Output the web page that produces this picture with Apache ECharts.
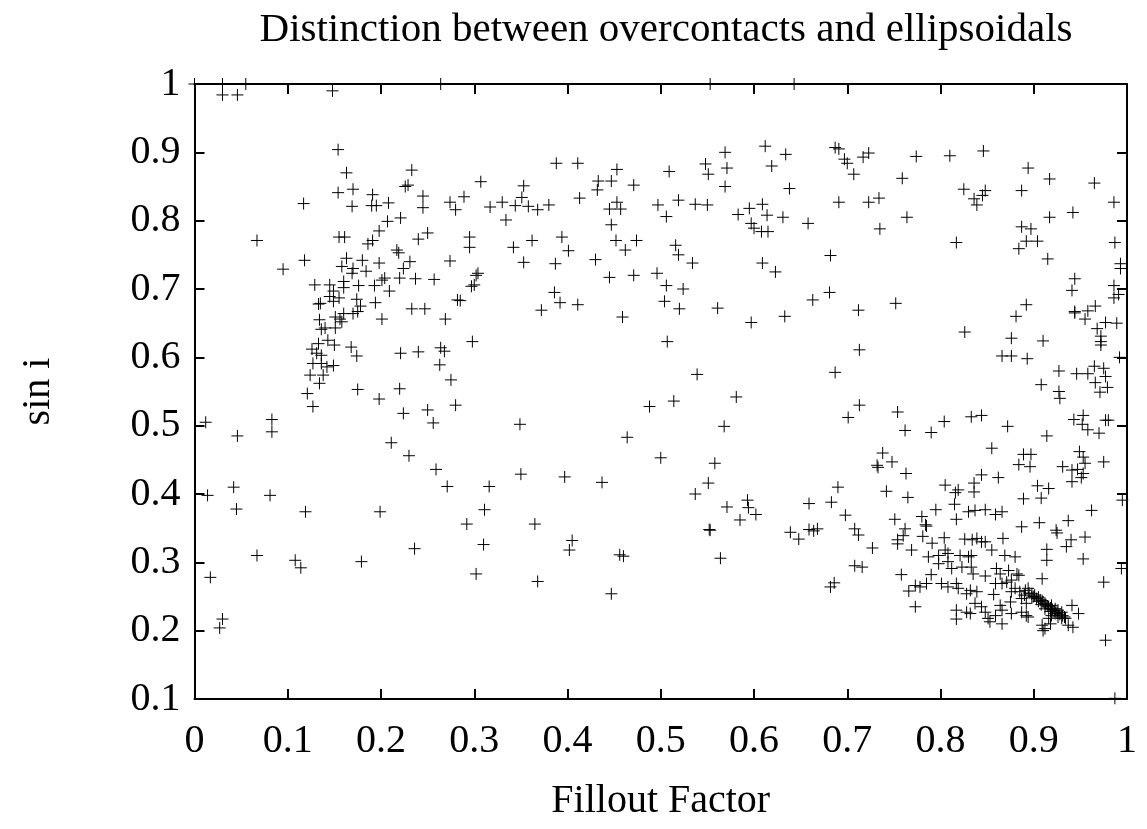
<!DOCTYPE html>
<html>
<head>
<meta charset="utf-8">
<script src="https://cdn.jsdelivr.net/npm/echarts@6/dist/echarts.min.js"></script>
<style>html,body{margin:0;padding:0;background:#fff}#c{width:1147px;height:829px}</style>
</head>
<body>
<div id="c"></div>
<script>
// [fillout factor, sin i] pairs, grouped by region of the plot
const upperLeft = [
[0.000,1.000],[0.030,1.000],[0.055,1.000],[0.030,0.984],[0.046,0.984],[0.148,0.990],[0.154,0.904],[0.163,0.870],
[0.233,0.874],[0.229,0.852],[0.226,0.850],[0.154,0.841],[0.170,0.846],[0.191,0.838],[0.245,0.836],[0.117,0.825],
[0.169,0.821],[0.190,0.822],[0.195,0.822],[0.208,0.826],[0.245,0.819],[0.221,0.804],[0.207,0.799],[0.198,0.785],
[0.250,0.782],[0.067,0.771],[0.155,0.776],[0.161,0.776],[0.240,0.773],[0.191,0.771],[0.186,0.766],[0.217,0.757],
[0.219,0.753],[0.231,0.740],[0.163,0.745],[0.158,0.733],[0.170,0.730],[0.180,0.742],[0.198,0.738],[0.169,0.723],
[0.184,0.726],[0.118,0.742],[0.095,0.729],[0.224,0.730],[0.204,0.716],[0.201,0.713],[0.220,0.716],[0.237,0.715],
[0.129,0.706],[0.145,0.706],[0.160,0.711],[0.160,0.702],[0.176,0.705],[0.193,0.705],[0.209,0.697],[0.149,0.697],
[0.145,0.689],[0.155,0.687],[0.135,0.679],[0.133,0.678],[0.149,0.682],[0.174,0.685],[0.178,0.675],[0.194,0.680],
[0.233,0.671],[0.247,0.671]
];
const upperMidLeft = [
[0.264,1.000],[0.388,0.884],[0.411,0.884],[0.453,0.875],[0.307,0.857],[0.353,0.851],[0.433,0.858],[0.447,0.858],
[0.432,0.845],[0.471,0.852],[0.289,0.835],[0.274,0.827],[0.280,0.816],[0.351,0.834],[0.330,0.827],[0.317,0.820],
[0.344,0.822],[0.358,0.821],[0.368,0.816],[0.380,0.823],[0.413,0.833],[0.453,0.827],[0.445,0.817],[0.457,0.817],
[0.497,0.823],[0.334,0.801],[0.447,0.794],[0.295,0.776],[0.295,0.761],[0.342,0.761],[0.362,0.771],[0.394,0.776],
[0.401,0.756],[0.452,0.771],[0.474,0.771],[0.462,0.757],[0.274,0.741],[0.353,0.739],[0.387,0.737],[0.430,0.743],
[0.257,0.714],[0.304,0.723],[0.302,0.720],[0.300,0.706],[0.297,0.704],[0.445,0.717],[0.471,0.720],[0.496,0.723],
[0.386,0.695],[0.282,0.684],[0.285,0.683],[0.392,0.680],[0.411,0.677],[0.372,0.669]
];
const upperMidRight = [
[0.553,1.000],[0.643,1.000],[0.569,0.900],[0.612,0.909],[0.634,0.897],[0.687,0.907],[0.691,0.905],[0.697,0.890],
[0.700,0.884],[0.717,0.893],[0.723,0.899],[0.707,0.868],[0.509,0.872],[0.548,0.883],[0.551,0.868],[0.571,0.877],
[0.619,0.880],[0.569,0.850],[0.638,0.847],[0.519,0.830],[0.537,0.824],[0.550,0.823],[0.506,0.806],[0.583,0.809],
[0.595,0.818],[0.609,0.824],[0.614,0.808],[0.631,0.805],[0.597,0.796],[0.600,0.789],[0.608,0.784],[0.615,0.784],
[0.658,0.796],[0.691,0.827],[0.723,0.827],[0.734,0.833],[0.735,0.788],[0.516,0.764],[0.519,0.750],[0.534,0.738],
[0.609,0.738],[0.623,0.725],[0.682,0.749],[0.506,0.705],[0.524,0.700],[0.504,0.682],[0.520,0.671],[0.561,0.672],
[0.663,0.684],[0.681,0.695],[0.712,0.669],[0.752,0.679]
];
const upperRight = [
[0.774,0.894],[0.810,0.895],[0.846,0.902],[0.759,0.862],[0.894,0.877],[0.917,0.861],[0.965,0.855],[0.825,0.846],
[0.848,0.844],[0.845,0.837],[0.836,0.832],[0.839,0.823],[0.887,0.844],[0.986,0.827],[0.764,0.805],[0.942,0.812],
[0.917,0.805],[0.887,0.791],[0.897,0.788],[0.817,0.768],[0.892,0.770],[0.904,0.770],[0.884,0.759],[0.987,0.768],
[0.915,0.744],[0.993,0.737],[0.993,0.730],[0.944,0.715],[0.941,0.698],[0.986,0.705],[0.991,0.692],[0.986,0.687],
[0.892,0.677],[0.944,0.667],[0.958,0.668],[0.966,0.675]
];
const middleLeft = [
[0.134,0.655],[0.151,0.659],[0.156,0.656],[0.160,0.664],[0.170,0.664],[0.175,0.667],[0.158,0.652],[0.136,0.641],
[0.140,0.643],[0.151,0.643],[0.143,0.625],[0.133,0.620],[0.150,0.618],[0.126,0.612],[0.131,0.606],[0.136,0.603],
[0.127,0.591],[0.136,0.591],[0.149,0.588],[0.142,0.586],[0.124,0.574],[0.138,0.574],[0.134,0.562],[0.121,0.547],
[0.127,0.528],[0.168,0.615],[0.174,0.602],[0.201,0.656],[0.221,0.606],[0.240,0.608],[0.175,0.553],[0.198,0.539],
[0.220,0.554],[0.224,0.518],[0.250,0.523],[0.012,0.505],[0.083,0.509],[0.083,0.491],[0.046,0.485],[0.211,0.475],
[0.230,0.456],[0.042,0.410],[0.014,0.398],[0.081,0.398],[0.045,0.378],[0.119,0.374],[0.199,0.374],[0.236,0.320]
];
const middleCenter = [
[0.269,0.656],[0.459,0.659],[0.298,0.623],[0.264,0.614],[0.268,0.609],[0.263,0.589],[0.275,0.567],[0.256,0.504],
[0.280,0.530],[0.349,0.502],[0.488,0.528],[0.464,0.483],[0.500,0.453],[0.259,0.436],[0.271,0.411],[0.316,0.411],
[0.350,0.429],[0.397,0.425],[0.437,0.417],[0.311,0.377],[0.292,0.356],[0.365,0.356],[0.310,0.326],[0.405,0.332],
[0.597,0.651],[0.633,0.660],[0.507,0.623],[0.713,0.611],[0.539,0.575],[0.687,0.578],[0.581,0.542],[0.514,0.536],
[0.713,0.530],[0.701,0.512],[0.754,0.520],[0.568,0.499],[0.558,0.445],[0.551,0.416],[0.537,0.400],[0.593,0.391],
[0.594,0.380],[0.602,0.370],[0.571,0.381],[0.585,0.362],[0.552,0.348],[0.553,0.347],[0.738,0.460],[0.748,0.447],
[0.732,0.442],[0.733,0.439],[0.690,0.410],[0.742,0.404],[0.659,0.386],[0.683,0.388],[0.698,0.369],[0.751,0.363],
[0.639,0.344],[0.648,0.334],[0.659,0.348],[0.664,0.346],[0.668,0.349],[0.708,0.349],[0.712,0.340],[0.754,0.333]
];
const middleRight = [
[0.881,0.660],[0.944,0.665],[0.955,0.656],[0.977,0.651],[0.989,0.650],[0.968,0.642],[0.972,0.631],[0.972,0.623],
[0.972,0.618],[0.826,0.637],[0.876,0.628],[0.910,0.624],[0.866,0.602],[0.876,0.602],[0.893,0.598],[0.992,0.600],
[0.927,0.580],[0.946,0.576],[0.958,0.576],[0.965,0.587],[0.975,0.584],[0.977,0.572],[0.966,0.563],[0.971,0.549],
[0.979,0.556],[0.908,0.560],[0.927,0.550],[0.928,0.540],[0.762,0.493],[0.790,0.490],[0.804,0.506],[0.833,0.513],
[0.844,0.515],[0.872,0.499],[0.914,0.485],[0.943,0.509],[0.953,0.515],[0.952,0.502],[0.958,0.494],[0.970,0.489],
[0.977,0.508],[0.980,0.508],[0.855,0.467],[0.889,0.458],[0.897,0.458],[0.884,0.443],[0.896,0.440],[0.949,0.462],
[0.953,0.454],[0.955,0.445],[0.931,0.440],[0.941,0.435],[0.947,0.436],[0.953,0.430],[0.951,0.424],[0.941,0.418],
[0.975,0.447],[0.763,0.430],[0.765,0.395],[0.805,0.413],[0.816,0.402],[0.819,0.406],[0.836,0.416],[0.844,0.428],
[0.836,0.403],[0.862,0.424],[0.904,0.412],[0.916,0.408],[0.889,0.393],[0.908,0.394],[0.795,0.377],[0.815,0.385],
[0.830,0.374],[0.837,0.376],[0.848,0.377],[0.859,0.370],[0.866,0.374],[0.962,0.376],[0.995,0.391],[0.780,0.367],
[0.784,0.355],[0.785,0.353],[0.817,0.363],[0.762,0.349],[0.760,0.339],[0.781,0.338],[0.804,0.336],[0.887,0.352],
[0.906,0.358],[0.924,0.347],[0.925,0.343],[0.937,0.361],[0.867,0.335],[0.826,0.334],[0.834,0.333],[0.839,0.335],
[0.844,0.330],[0.848,0.330],[0.940,0.333],[0.955,0.337],[0.791,0.328]
];
const lowerLeft = [
[0.017,0.278],[0.067,0.310],[0.108,0.303],[0.114,0.292],[0.030,0.217],[0.027,0.204],[0.179,0.301],
[0.402,0.318],[0.456,0.311],[0.460,0.309],[0.302,0.283],[0.368,0.272],[0.447,0.254],
[0.564,0.306],[0.727,0.321],[0.708,0.295],[0.716,0.293],[0.686,0.270],[0.682,0.264],[0.754,0.327]
];
const lowerRightCluster = [
[0.769,0.318],[0.787,0.308],[0.798,0.310],[0.805,0.318],[0.808,0.313],[0.821,0.310],[0.830,0.308],[0.833,0.310],
[0.855,0.318],[0.869,0.310],[0.880,0.308],[0.914,0.319],[0.914,0.303],[0.935,0.323],[0.953,0.305],[0.994,0.291],
[0.975,0.271],[0.798,0.298],[0.808,0.301],[0.812,0.291],[0.823,0.293],[0.833,0.293],[0.835,0.283],[0.848,0.280],
[0.860,0.291],[0.864,0.283],[0.873,0.288],[0.882,0.283],[0.884,0.281],[0.758,0.282],[0.790,0.282],[0.909,0.276],
[0.766,0.258],[0.773,0.266],[0.778,0.264],[0.785,0.269],[0.801,0.269],[0.808,0.264],[0.817,0.269],[0.819,0.262],
[0.828,0.254],[0.832,0.259],[0.839,0.257],[0.859,0.269],[0.866,0.269],[0.871,0.271],[0.876,0.274],[0.880,0.262],
[0.857,0.253],[0.876,0.257],[0.885,0.257],[0.891,0.259],[0.894,0.262],[0.898,0.254],[0.901,0.252],[0.773,0.235],
[0.837,0.240],[0.844,0.235],[0.848,0.227],[0.864,0.237],[0.875,0.242],[0.887,0.247],[0.892,0.240],[0.905,0.249],
[0.909,0.244],[0.912,0.240],[0.916,0.235],[0.919,0.237],[0.923,0.232],[0.926,0.230],[0.930,0.227],[0.941,0.237],
[0.866,0.230],[0.817,0.230],[0.817,0.217],[0.828,0.227],[0.832,0.225],[0.851,0.218],[0.853,0.213],[0.859,0.222],
[0.866,0.210],[0.876,0.225],[0.887,0.227],[0.892,0.222],[0.894,0.220],[0.909,0.208],[0.912,0.203],[0.916,0.218],
[0.919,0.222],[0.923,0.225],[0.926,0.220],[0.930,0.218],[0.934,0.218],[0.937,0.208],[0.942,0.205],[0.948,0.225],
[0.910,0.200],[0.918,0.210],[0.977,0.186],[0.987,0.101],
[0.895,0.255],[0.900,0.250],[0.903,0.247],[0.907,0.245],[0.910,0.242],[0.913,0.238],[0.915,0.236],[0.918,0.233],
[0.920,0.231],[0.922,0.229],[0.925,0.227],[0.928,0.224],[0.931,0.222],[0.933,0.220],[0.908,0.238],[0.912,0.232],
[0.918,0.228],[0.905,0.243],[0.898,0.249],[0.890,0.252]
];

const xTicks = { min: 0, max: 1, interval: 0.1 };
const yTicks = { min: 0.1, max: 1, interval: 0.1 };

const allPoints = [].concat(upperLeft, upperMidLeft, upperMidRight, upperRight,
  middleLeft, middleCenter, middleRight, lowerLeft, lowerRightCluster);

const chart = echarts.init(document.getElementById('c'), null, { renderer: 'canvas' });
const font = 'Liberation Serif, Times New Roman, serif';
const axisLineStyle = { color: '#000', width: 2 };
const tickCfg = { show: true, inside: true, length: 10, lineStyle: { color: '#000', width: 2 } };

chart.setOption({
  animation: false,
  backgroundColor: '#fff',
  title: {
    text: 'Distinction between overcontacts and ellipsoidals',
    left: 661, top: 5, textAlign: 'center',
    textStyle: { fontFamily: font, fontSize: 41, fontWeight: 'normal', color: '#000' }
  },
  grid: { left: 194.5, right: 20, top: 84, bottom: 130, containLabel: false },
  xAxis: [
    { type: 'value', position: 'bottom', min: xTicks.min, max: xTicks.max, interval: xTicks.interval,
      name: 'Fillout Factor', nameLocation: 'middle', nameGap: 82,
      nameTextStyle: { fontFamily: font, fontSize: 40, color: '#000' },
      axisLine: { show: true, onZero: false, lineStyle: axisLineStyle }, axisTick: tickCfg,
      axisLabel: { fontFamily: font, fontSize: 40, color: '#000', margin: 22 },
      splitLine: { show: false } },
    { type: 'value', position: 'top', min: xTicks.min, max: xTicks.max, interval: xTicks.interval,
      axisLine: { show: true, onZero: false, lineStyle: axisLineStyle }, axisTick: tickCfg,
      axisLabel: { show: false }, splitLine: { show: false } }
  ],
  yAxis: [
    { type: 'value', position: 'left', min: yTicks.min, max: yTicks.max, interval: yTicks.interval,
      name: 'sin i', nameLocation: 'middle', nameGap: 136, nameRotate: 90,
      nameTextStyle: { fontFamily: font, fontSize: 40, color: '#000' },
      axisLine: { show: true, onZero: false, lineStyle: axisLineStyle }, axisTick: tickCfg,
      axisLabel: { fontFamily: font, fontSize: 40, color: '#000', margin: 14 },
      splitLine: { show: false } },
    { type: 'value', position: 'right', min: yTicks.min, max: yTicks.max, interval: yTicks.interval,
      axisLine: { show: true, onZero: false, lineStyle: axisLineStyle }, axisTick: tickCfg,
      axisLabel: { show: false }, splitLine: { show: false } }
  ],
  series: [{
    type: 'scatter',
    xAxisIndex: 0, yAxisIndex: 0,
    data: allPoints,
    symbol: 'path://M0,5L10,5M5,0L5,10',
    symbolSize: 12,
    clip: false,
    itemStyle: { color: 'rgba(0,0,0,0)', borderColor: '#000', borderWidth: 1, opacity: 1 },
    emphasis: { disabled: true }
  }]
});
</script>
</body>
</html>
